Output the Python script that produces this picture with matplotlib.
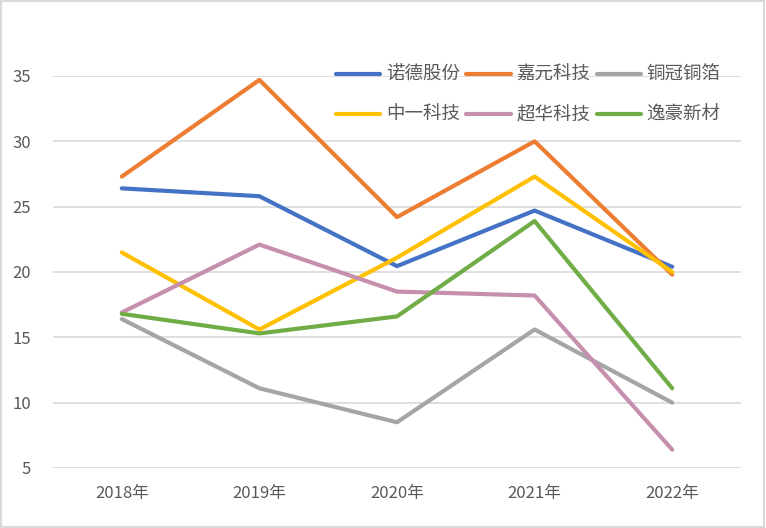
import matplotlib
matplotlib.use("Agg")
import matplotlib.pyplot as plt
from matplotlib.patches import Rectangle

plt.rcParams['font.family'] = ['Noto Sans CJK SC', 'DejaVu Sans']

years = ["2018年", "2019年", "2020年", "2021年", "2022年"]
series_names = ["诺德股份", "嘉元科技", "铜冠铜箔", "中一科技", "超华科技", "逸豪新材"]
nuode = [26.4, 25.8, 20.45, 24.7, 20.4]
jiayuan = [27.3, 34.7, 24.2, 30.0, 19.8]
tongguan = [16.4, 11.1, 8.5, 15.6, 10.0]
zhongyi = [21.5, 15.6, 21.1, 27.3, 20.0]
chaohua = [16.9, 22.1, 18.5, 18.2, 6.4]
yihao = [16.8, 15.3, 16.6, 23.9, 11.1]
yticks = [5, 10, 15, 20, 25, 30, 35]

colors = ["#4472C4", "#ED7D31", "#A5A5A5", "#FFC000", "#C78FAE", "#70AD47"]
data = [nuode, jiayuan, tongguan, zhongyi, chaohua, yihao]

fig = plt.figure(figsize=(7.66, 5.28), dpi=100)
ax = fig.add_axes([53/766, 1-468/528, (741-53)/766, (468-76)/528])

x = list(range(len(years)))
lines = []
for name, vals, c in zip(series_names, data, colors):
    ln, = ax.plot(x, vals, color=c, linewidth=3, label=name, clip_on=False,
                  solid_capstyle='round', solid_joinstyle='round')
    lines.append(ln)

ax.set_xlim(-0.5, len(years) - 0.5)
ax.set_ylim(5, 35)
ax.set_yticks(yticks)
ax.set_yticklabels([str(v) for v in yticks])
ax.set_xticks(x)
ax.set_xticklabels(years)
ax.grid(axis='y', color='#D9D9D9', linewidth=1.2)
ax.set_axisbelow(True)
for s in ax.spines.values():
    s.set_visible(False)
ax.tick_params(axis='both', length=0, labelsize=12, colors='#595959')
ax.tick_params(axis='y', pad=16)
ax.tick_params(axis='x', pad=12)

# row-wise legend ordering for 3 columns x 2 rows
order = [0, 3, 1, 4, 2, 5]
leg = fig.legend([lines[i] for i in order], [series_names[i] for i in order],
                 loc='upper left', bbox_to_anchor=(336/766, 1-66/528), ncol=3,
                 frameon=False, fontsize=13.3, handlelength=2.4, handletextpad=0.3,
                 columnspacing=0.35, labelspacing=1.2, borderpad=0, borderaxespad=0)
for t in leg.get_texts():
    t.set_color('#595959')

fig.patches.append(Rectangle((0.001, 0.001), 0.997, 0.997, transform=fig.transFigure,
                             fill=False, edgecolor='#D9D9D9', linewidth=1.5))

fig.savefig("out.png", dpi=100, facecolor='white')
